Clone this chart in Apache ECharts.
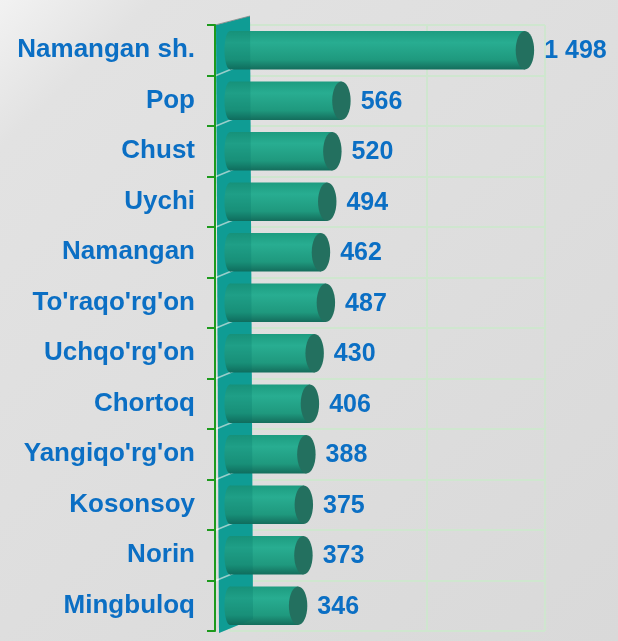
<!DOCTYPE html>
<html>
<head>
<meta charset="utf-8">
<script src="https://cdn.jsdelivr.net/npm/echarts@6/dist/echarts.min.js"></script>
<style>
html, body { margin: 0; padding: 0; background: #dcdcdc; }
#chart { width: 618px; height: 641px; }
</style>
</head>
<body>
<div id="chart"></div>
<script>
// districts top to bottom, as in the picture
const districts = ['Namangan sh.', 'Pop', 'Chust', 'Uychi', 'Namangan', "To'raqo'rg'on",
    "Uchqo'rg'on", 'Chortoq', "Yangiqo'rg'on", 'Kosonsoy', 'Norin', 'Mingbuloq'];
const counts = [1498, 566, 520, 494, 462, 487, 430, 406, 388, 375, 373, 346];

const BLUE = '#0b6fc4';
const GREEN = '#1d9a1d';
const GRIDLINE = '#cfe6cf';

function fmt(v) {
    return String(v).replace(/\B(?=(\d{3})+(?!\d))/g, ' ');
}

const bodyFill = new echarts.graphic.LinearGradient(0, 0, 0, 1, [
    { offset: 0, color: '#1d9c80' },
    { offset: 0.3, color: '#28ad91' },
    { offset: 0.75, color: '#1f997e' },
    { offset: 1, color: '#146d5c' }
]);

function renderCylinder(params, api) {
    const idx = api.value(0);
    const val = api.value(1);
    const start = api.coord([0, idx]);
    const end = api.coord([val, idx]);
    const band = api.size([0, 1])[1];
    const h = band * 0.76;
    const rx = h * 0.24;
    const cy = start[1];
    return {
        type: 'group',
        children: [
            {
                type: 'ellipse',
                shape: { cx: start[0], cy: cy, rx: rx * 0.6, ry: h / 2 },
                style: { fill: bodyFill }
            },
            {
                type: 'rect',
                shape: { x: start[0], y: cy - h / 2, width: end[0] - start[0], height: h },
                style: { fill: bodyFill }
            },
            {
                type: 'ellipse',
                shape: { cx: end[0], cy: cy, rx: rx, ry: h / 2 },
                style: { fill: '#23705f' }
            },
            {
                type: 'text',
                x: end[0] + rx + 10,
                y: cy + 1,
                style: {
                    text: fmt(val),
                    fill: BLUE,
                    font: 'bold 25px "Liberation Sans", Arial, sans-serif',
                    align: 'left',
                    verticalAlign: 'middle'
                }
            }
        ]
    };
}

// the teal side wall, drawn behind (solid) and in front (tint)
function wallShape(params, api, front) {
    const cs = params.coordSys;
    const x0 = cs.x - 14;
    const x1 = cs.x + 20;
    const top = cs.y;
    const bottom = cs.y + cs.height;
    const children = [{
        type: 'polygon',
        shape: { points: [[x0, top], [x1, top - 9], [x1 + 3, bottom - 12], [x0 + 3, bottom + 2]] },
        style: { fill: front ? 'rgba(0,110,100,0.22)' : '#14a9a2' }
    }];
    if (!front) {
        const band = api.size([0, 1])[1];
        for (let i = 1; i < districts.length; i++) {
            const yb = api.coord([0, i])[1] - band / 2;
            children.push({
                type: 'line',
                shape: { x1: x0, y1: yb, x2: x1, y2: yb - 14 },
                style: { stroke: 'rgba(255,255,255,0.75)', lineWidth: 1.5 }
            });
        }
        children.push({
            type: 'line',
            shape: { x1: x0 - 1, y1: top, x2: x1, y2: top - 9 },
            style: { stroke: '#9a9a9a', lineWidth: 1 }
        });
    }
    return { type: 'group', children: children };
}

const chart = echarts.init(document.getElementById('chart'));
chart.setOption({
    animation: false,
    backgroundColor: {
        type: 'linear', x: 0, y: 0, x2: 1, y2: 1,
        colorStops: [
            { offset: 0, color: '#f2f2f2' },
            { offset: 0.12, color: '#e2e2e2' },
            { offset: 1, color: '#d9d9d9' }
        ]
    },
    grid: { left: 230, right: 73, top: 25, bottom: 10 },
    xAxis: {
        type: 'value',
        min: 0,
        max: 1600,
        interval: 1000,
        axisLabel: { show: false },
        axisLine: { show: false },
        axisTick: { show: false },
        splitLine: { lineStyle: { color: GRIDLINE, width: 2 } }
    },
    yAxis: [
        {
            // visible axis: green line, ticks and district names, on top of the wall
            type: 'category',
            data: districts,
            inverse: true,
            offset: 15,
            z: 6,
            axisLine: { onZero: false, lineStyle: { color: GREEN, width: 2 } },
            axisTick: {
                show: true,
                interval: 0,
                inside: false,
                length: 8,
                lineStyle: { color: GREEN, width: 2 }
            },
            axisLabel: {
                margin: 20,
                interval: 0,
                color: BLUE,
                fontSize: 26,
                fontWeight: 'bold',
                fontFamily: '"Liberation Sans", Arial, sans-serif'
            },
            splitLine: { show: false }
        },
        {
            // only the light row separators, kept behind the bars
            type: 'category',
            data: districts,
            inverse: true,
            position: 'right',
            z: 0,
            axisLine: { show: false },
            axisTick: { show: false },
            axisLabel: { show: false },
            splitLine: { show: true, lineStyle: { color: GRIDLINE, width: 2 } }
        }
    ],
    series: [
        {
            type: 'custom',
            z: 1,
            silent: true,
            clip: false,
            data: [[0, 0]],
            renderItem: (p, api) => wallShape(p, api, false)
        },
        {
            type: 'custom',
            z: 4,
            clip: false,
            encode: { x: 1, y: 0 },
            data: counts.map((v, i) => [i, v]),
            renderItem: renderCylinder
        },
        {
            type: 'custom',
            z: 5,
            silent: true,
            clip: false,
            data: [[0, 0]],
            renderItem: (p, api) => wallShape(p, api, true)
        }
    ]
});
</script>
</body>
</html>
